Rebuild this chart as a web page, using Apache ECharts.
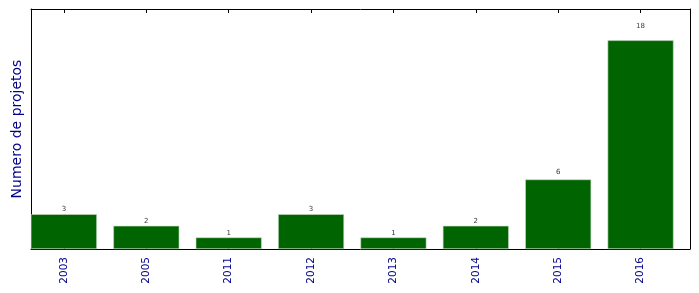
<!DOCTYPE html>
<html><head><meta charset="utf-8">
<script src="https://cdn.jsdelivr.net/npm/echarts@6/dist/echarts.min.js"></script>
<style>html,body{margin:0;padding:0;background:#fff}#c{width:699px;height:293px}</style>
</head><body><div id="c"></div>
<script>
const categories = ['2003','2005','2011','2012','2013','2014','2015','2016'];
const values = [3, 2, 1, 3, 1, 2, 6, 18];
const yMax = 20.7;

const idx = categories.map((c, i) => i);
const barData = values.map((v, i) => [i, v]);
const labelData = values.map((v, i) => [i, v * 1.05, v]);
const font = 'DejaVu Sans';
const chart = echarts.init(document.getElementById('c'), null, {renderer: 'canvas'});
chart.setOption({
  animation: false,
  grid: {left: 31, right: 9, top: 9, bottom: 44},
  xAxis: [{
    type: 'value', min: -0.4, max: 7.6, position: 'bottom',
    axisLine: {show: true, onZero: false, lineStyle: {color: '#000', width: 1}},
    axisTick: {show: true, inside: true, length: 4, customValues: idx, lineStyle: {color: '#000'}},
    axisLabel: {show: true, customValues: idx, rotate: 90, margin: 8, fontFamily: font, fontSize: 10.5, color: '#00008B',
      formatter: v => categories[Math.round(v)]},
    splitLine: {show: false}
  }, {
    type: 'value', min: -0.4, max: 7.6, position: 'top',
    axisLine: {show: true, onZero: false, lineStyle: {color: '#000', width: 1}},
    axisTick: {show: true, inside: true, length: 4, customValues: idx, lineStyle: {color: '#000'}},
    axisLabel: {show: false}, splitLine: {show: false}
  }],
  yAxis: [{
    type: 'value', min: 0, max: yMax, position: 'left',
    name: 'Numero de projetos', nameLocation: 'middle', nameGap: 7,
    nameTextStyle: {fontFamily: font, fontSize: 14, color: '#00008B'},
    axisLine: {show: true, onZero: false, lineStyle: {color: '#000', width: 1}},
    axisTick: {show: false}, axisLabel: {show: false}, splitLine: {show: false}
  }, {
    type: 'value', min: 0, max: yMax, position: 'right',
    axisLine: {show: true, onZero: false, lineStyle: {color: '#000', width: 1}},
    axisTick: {show: false}, axisLabel: {show: false}, splitLine: {show: false}
  }],
  series: [{
    type: 'bar', data: barData, barWidth: 66,
    itemStyle: {color: '#006400', borderColor: '#c8dcc8', borderWidth: 0.6}
  }, {
    type: 'scatter', data: labelData, symbolSize: 0,
    label: {show: true, position: 'top', distance: 0, fontFamily: font, fontSize: 7, color: '#000',
      formatter: p => String(p.data[2])}
  }]
});
</script></body></html>
